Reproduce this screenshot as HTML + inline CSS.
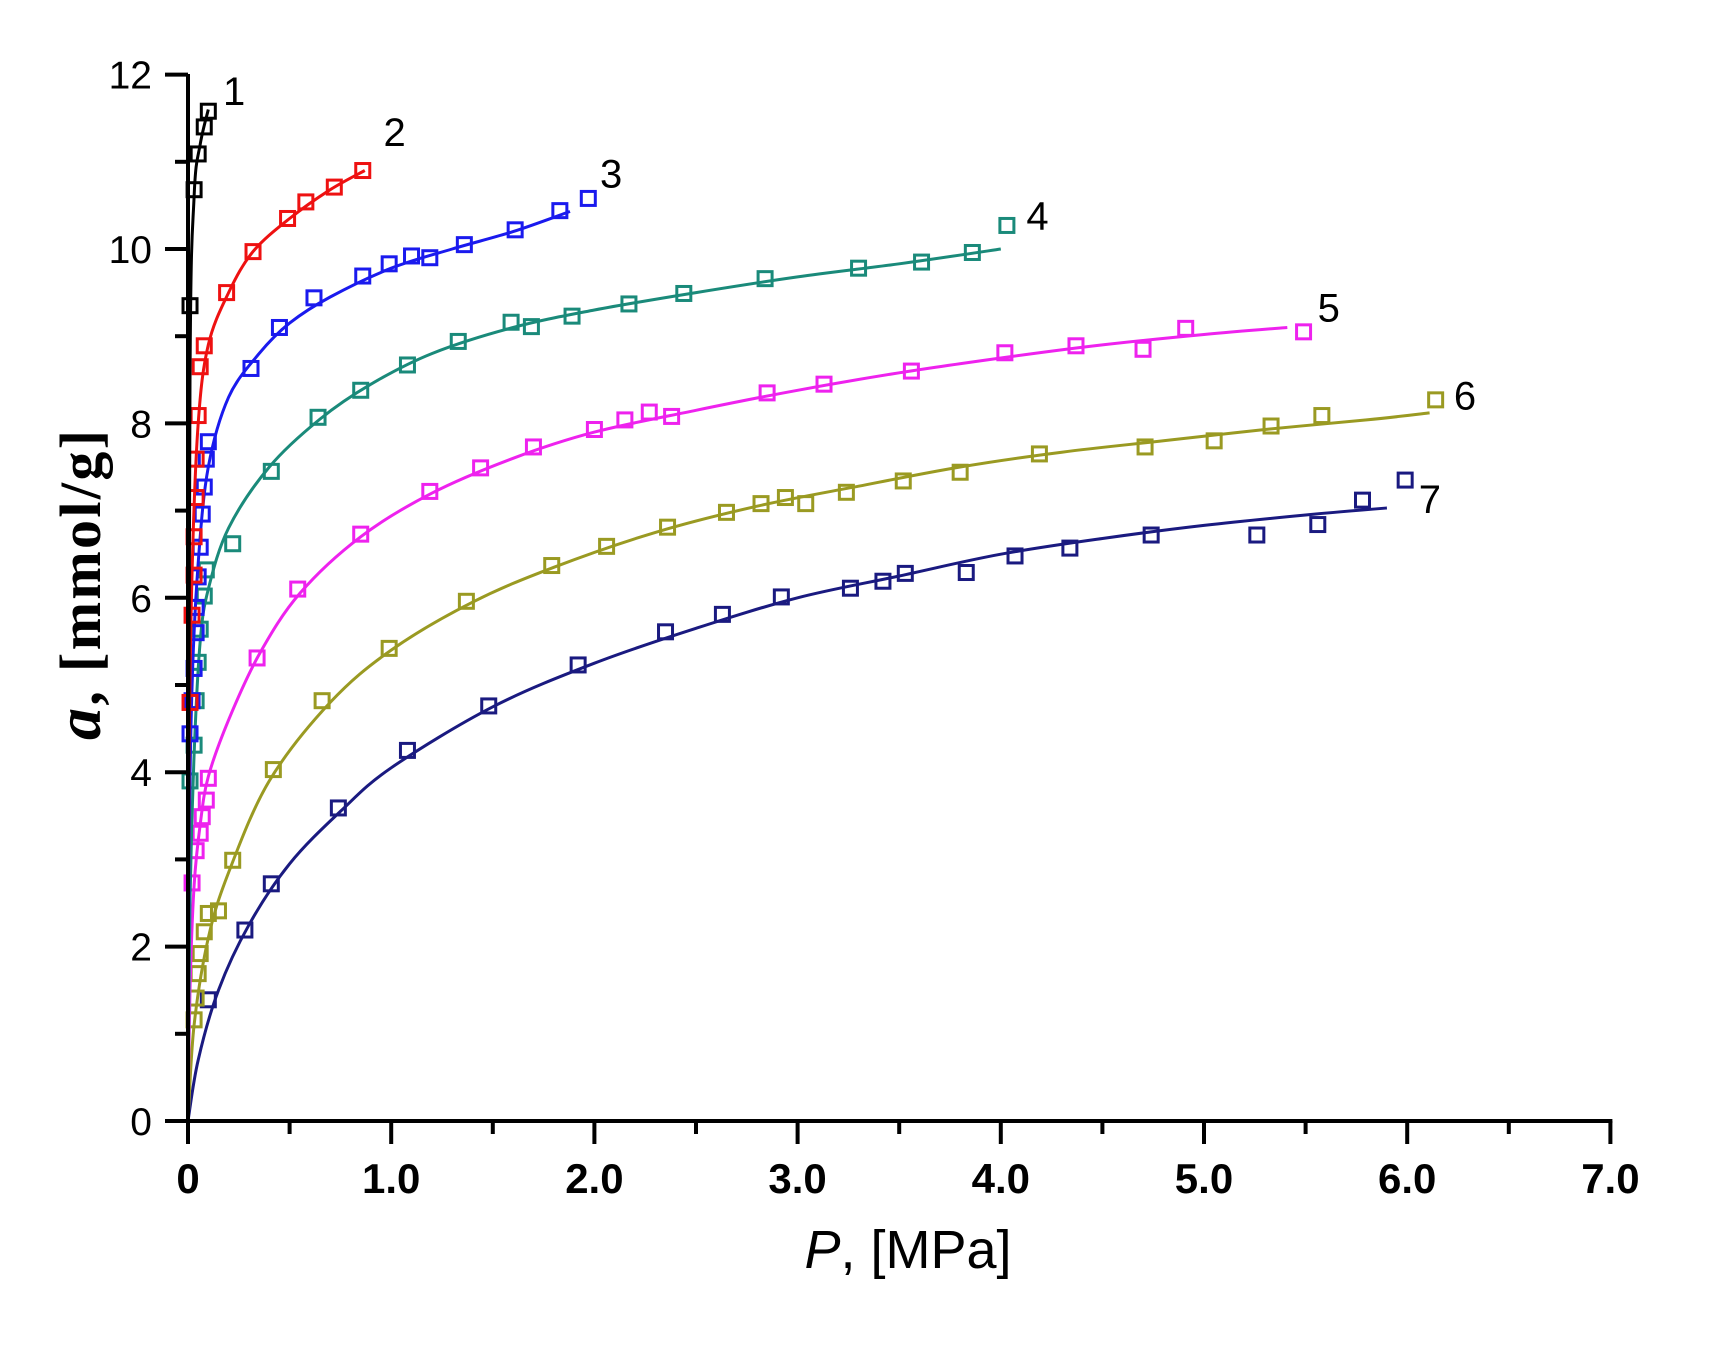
<!DOCTYPE html>
<html><head><meta charset="utf-8"><style>
html,body{margin:0;padding:0;background:#fff;}
svg{display:block;}
</style></head><body>
<svg id="s" width="1718" height="1345" xmlns="http://www.w3.org/2000/svg">
<rect width="1718" height="1345" fill="#fff"/>
<g id="plot"></g>
<g id="axes" stroke="#000" stroke-width="4" fill="none"></g>
<g id="labels" font-family="Liberation Sans, sans-serif" fill="#000"></g>
<text x="908" y="1268" font-family="Liberation Sans, sans-serif" font-size="54" text-anchor="middle"><tspan font-style="italic">P</tspan>, [MPa]</text>
<text transform="translate(100,585) rotate(-90)" font-family="Liberation Serif, serif" font-weight="bold" font-size="58" text-anchor="middle" textLength="310"><tspan font-style="italic" font-size="64">a</tspan>, [mmol/g]</text>
</svg>
<script>
var X0=188,SX=203.2,Y0=1121,SY=87.2;
function px(p){return X0+p*SX}function py(a){return Y0-a*SY}
var NS="http://www.w3.org/2000/svg";
function el(t,at,par,txt){var e=document.createElementNS(NS,t);for(var k in at)e.setAttribute(k,at[k]);if(txt!=null)e.textContent=txt;par.appendChild(e);return e;}
var axes=document.getElementById('axes'),lab=document.getElementById('labels'),plot=document.getElementById('plot');
el('line',{x1:X0,y1:74,x2:X0,y2:Y0+2},axes);
el('line',{x1:X0-2,y1:Y0,x2:px(7)+2,y2:Y0},axes);
for(var i=0;i<=14;i++){var x=px(i*0.5);var maj=i%2==0;el('line',{x1:x,y1:Y0,x2:x,y2:Y0+(maj?23:13)},axes);}
for(var j=0;j<=12;j++){var y=py(j);var maj=j%2==0;el('line',{x1:X0,y1:y,x2:X0-(maj?23:13),y2:y},axes);
 if(maj)el('text',{x:152,y:y+14,'font-size':39,'text-anchor':'end'},lab,String(j));}
for(var i=0;i<=7;i++){el('text',{x:px(i),y:1193,'font-size':42,'font-weight':'bold','text-anchor':'middle'},lab,i==0?'0':i+'.0');}
var S=[
{c:'#000000',curve:[[0,0],[0.01,8.5],[0.03,10.6],[0.06,11.2],[0.1,11.6]],pts:[[0.01,9.35],[0.03,10.68],[0.05,11.09],[0.08,11.4],[0.1,11.58]],lab:[214,85]},
{c:'#ee1111',curve:[[0,0],[0.005,4],[0.02,6.3],[0.05,8.0],[0.1,8.9],[0.2,9.5],[0.32,9.97],[0.5,10.35],[0.7,10.68],[0.87,10.9]],pts:[[0.01,4.8],[0.02,5.8],[0.03,6.26],[0.03,6.7],[0.04,7.15],[0.04,7.59],[0.05,8.09],[0.06,8.65],[0.08,8.89],[0.19,9.5],[0.32,9.97],[0.49,10.35],[0.58,10.54],[0.72,10.71],[0.86,10.9]],lab:[360,122]},
{c:'#1a1aee',curve:[[0,0],[0.005,3],[0.02,5],[0.05,6.4],[0.1,7.5],[0.2,8.3],[0.35,8.8],[0.5,9.15],[0.7,9.45],[1.0,9.78],[1.3,10.0],[1.6,10.2],[1.88,10.43]],pts:[[0.01,4.44],[0.02,4.82],[0.03,5.19],[0.04,5.6],[0.04,5.89],[0.05,6.24],[0.06,6.58],[0.07,6.96],[0.08,7.27],[0.09,7.59],[0.1,7.79],[0.31,8.63],[0.45,9.1],[0.62,9.44],[0.86,9.69],[0.99,9.83],[1.1,9.92],[1.19,9.9],[1.36,10.05],[1.61,10.22],[1.83,10.44],[1.97,10.58]],lab:[557,160]},
{c:'#1a8a7a',curve:[[0,0],[0.01,2.5],[0.03,4.2],[0.06,5.5],[0.1,6.1],[0.2,6.8],[0.4,7.5],[0.65,8.05],[0.9,8.45],[1.2,8.8],[1.6,9.1],[2,9.3],[2.5,9.5],[3,9.68],[3.5,9.83],[4,10.0]],pts:[[0.01,3.9],[0.03,4.31],[0.04,4.82],[0.05,5.26],[0.06,5.64],[0.08,6.02],[0.09,6.32],[0.22,6.62],[0.41,7.45],[0.64,8.07],[0.85,8.38],[1.08,8.67],[1.33,8.94],[1.59,9.16],[1.69,9.11],[1.89,9.23],[2.17,9.37],[2.44,9.49],[2.84,9.66],[3.3,9.78],[3.61,9.85],[3.86,9.96],[4.03,10.27]],lab:[945,198]},
{c:'#ee22ee',curve:[[0,0],[0.01,1.5],[0.03,2.7],[0.06,3.4],[0.1,3.95],[0.2,4.6],[0.35,5.35],[0.55,6.05],[0.85,6.7],[1.2,7.2],[1.6,7.6],[2,7.9],[2.5,8.15],[3,8.38],[3.5,8.58],[4,8.75],[4.5,8.9],[5,9.02],[5.41,9.1]],pts:[[0.02,2.73],[0.04,3.1],[0.06,3.3],[0.07,3.49],[0.09,3.68],[0.1,3.93],[0.34,5.31],[0.54,6.1],[0.85,6.73],[1.19,7.22],[1.44,7.49],[1.7,7.73],[2.0,7.93],[2.15,8.04],[2.27,8.13],[2.38,8.08],[2.85,8.35],[3.13,8.45],[3.56,8.6],[4.02,8.81],[4.37,8.89],[4.7,8.85],[4.91,9.09],[5.49,9.05]],lab:[1210,282]},
{c:'#9a9a22',curve:[[0,0],[0.03,1.1],[0.1,2.1],[0.2,2.85],[0.4,3.9],[0.7,4.8],[1,5.4],[1.4,5.95],[1.8,6.35],[2.3,6.75],[2.8,7.05],[3.3,7.28],[3.8,7.5],[4.3,7.67],[4.8,7.8],[5.3,7.93],[5.8,8.04],[6.11,8.12]],pts:[[0.03,1.16],[0.04,1.41],[0.05,1.69],[0.06,1.92],[0.08,2.17],[0.1,2.38],[0.15,2.41],[0.22,2.99],[0.42,4.03],[0.66,4.82],[0.99,5.42],[1.37,5.96],[1.79,6.37],[2.06,6.59],[2.36,6.81],[2.65,6.98],[2.82,7.08],[2.94,7.15],[3.04,7.08],[3.24,7.21],[3.52,7.34],[3.8,7.44],[4.19,7.65],[4.71,7.73],[5.05,7.8],[5.33,7.97],[5.58,8.09],[6.14,8.27]],lab:[1334,362]},
{c:'#1a1a80',curve:[[0,0],[0.05,0.7],[0.15,1.5],[0.3,2.25],[0.5,2.95],[0.75,3.55],[1.0,4.05],[1.5,4.75],[2,5.25],[2.5,5.65],[3,6.0],[3.5,6.25],[4,6.5],[4.5,6.68],[5,6.83],[5.5,6.95],[5.9,7.03]],pts:[[0.1,1.39],[0.28,2.19],[0.41,2.72],[0.74,3.59],[1.08,4.25],[1.48,4.76],[1.92,5.23],[2.35,5.61],[2.63,5.81],[2.92,6.01],[3.26,6.11],[3.42,6.19],[3.53,6.28],[3.83,6.29],[4.07,6.48],[4.34,6.57],[4.74,6.72],[5.26,6.72],[5.56,6.84],[5.78,7.12],[5.99,7.35]],lab:[1302,456]}
];
function path(c){var p=c.map(function(q){return[px(q[0]),py(q[1])]});var d='M'+p[0][0].toFixed(1)+' '+p[0][1].toFixed(1);
 for(var i=0;i<p.length-1;i++){var a=p[i-1]||p[i],b=p[i],c2=p[i+1],e=p[i+2]||c2;
 var c1x=b[0]+(c2[0]-a[0])/6,c1y=b[1]+(c2[1]-a[1])/6,c3x=c2[0]-(e[0]-b[0])/6,c3y=c2[1]-(e[1]-b[1])/6;
 d+=' C'+c1x.toFixed(1)+' '+c1y.toFixed(1)+' '+c3x.toFixed(1)+' '+c3y.toFixed(1)+' '+c2[0].toFixed(1)+' '+c2[1].toFixed(1);}return d;}
S.slice().reverse().forEach(function(s){
 el('path',{d:path(s.curve),stroke:s.c,'stroke-width':3,fill:'none'},plot);
 s.pts.forEach(function(q){el('rect',{x:px(q[0])-7,y:py(q[1])-7,width:14,height:14,fill:'none',stroke:s.c,'stroke-width':3},plot);});
});
S.forEach(function(s,k){var x=188+(s.lab[0]-172)*1.099,y=1121-(1022-s.lab[1])*1.099;
 el('text',{x:x,y:y+14,'font-size':40,'text-anchor':'middle'},lab,String(k+1));});
</script>
</body></html>
